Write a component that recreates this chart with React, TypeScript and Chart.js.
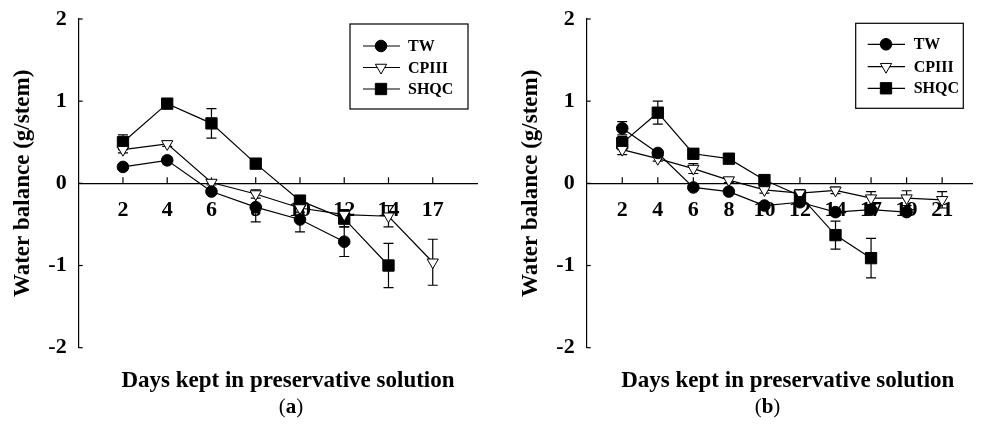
import React, { useEffect, useRef } from 'react';
import { Chart, registerables } from 'chart.js';

Chart.register(...registerables);

// ---- data ----
const SERIES_NAMES = ['TW', 'CPIII', 'SHQC'];
const Y_TICKS = [-2, -1, 0, 1, 2];
const Y_TITLE = 'Water balance (g/stem)';
const X_TITLE = 'Days kept in preservative solution';

const DAYS_A = ['2', '4', '6', '8', '10', '12', '14', '17'];
const TW_A = [0.2, 0.28, -0.1, -0.29, -0.44, -0.71, null, null];
const TW_A_ERR = [0.04, 0.04, 0.03, 0.18, 0.15, 0.18, null, null];
const CPIII_A = [0.41, 0.48, 0.01, -0.13, -0.3, -0.38, -0.4, -0.96];
const CPIII_A_ERR = [0.04, 0.03, 0.03, 0.05, 0.05, 0.06, 0.13, 0.28];
const SHQC_A = [0.5, 0.97, 0.73, 0.24, -0.21, -0.43, -1.0, null];
const SHQC_A_ERR = [0.09, 0.03, 0.18, 0.03, 0.05, 0.1, 0.27, null];

const DAYS_B = ['2', '4', '6', '8', '10', '12', '14', '17', '19', '21'];
const TW_B = [0.67, 0.37, -0.05, -0.1, -0.27, -0.23, -0.35, -0.32, -0.35, null];
const TW_B_ERR = [0.08, 0.03, 0.03, 0.03, 0.03, 0.04, 0.04, 0.03, 0.03, null];
const CPIII_B = [0.41, 0.3, 0.18, 0.04, -0.08, -0.12, -0.085, -0.18, -0.18, -0.2];
const CPIII_B_ERR = [0.06, 0.03, 0.06, 0.03, 0.04, 0.04, 0.04, 0.08, 0.09, 0.1];
const SHQC_B = [0.49, 0.86, 0.36, 0.3, 0.04, -0.15, -0.63, -0.91, null, null];
const SHQC_B_ERR = [0.08, 0.14, 0.04, 0.03, 0.04, 0.05, 0.17, 0.24, null, null];

// ---- styling ----
const FONT = "'Liberation Serif', 'Times New Roman', serif";
const LINE_W = 1.2;
type MarkerKind = 'circle' | 'triangle' | 'rect';
const MARKERS: Record<MarkerKind, { style: string; radius: number; rotation: number; fill: string }> = {
  circle: { style: 'circle', radius: 5.8, rotation: 0, fill: '#000' },
  triangle: { style: 'triangle', radius: 6.5, rotation: 180, fill: '#fff' },
  rect: { style: 'rect', radius: 8, rotation: 0, fill: '#000' },
};
const KINDS: MarkerKind[] = ['circle', 'triangle', 'rect'];

type PanelCfg = {
  days: string[];
  values: (number | null)[][];
  errs: (number | null)[][];
  canvasLeft: number;
  canvasWidth: number;
  padLeft: number;
  padRight: number;
  xMax: number;
  legend: { x: number; y: number; w: number; h: number; rows: number[]; lineX0: number; lineX1: number; markX: number; textX: number };
  titleX: number;
  captionX: number;
  caption: string;
};

const PANELS: PanelCfg[] = [
  {
    days: DAYS_A,
    values: [TW_A, CPIII_A, SHQC_A],
    errs: [TW_A_ERR, CPIII_A_ERR, SHQC_A_ERR],
    canvasLeft: 0,
    canvasWidth: 490,
    padLeft: 0,
    padRight: 13,
    xMax: 9,
    legend: { x: 350, y: 24, w: 118, h: 85, rows: [22, 43.5, 65], lineX0: 13, lineX1: 50, markX: 31, textX: 58 },
    titleX: 288,
    captionX: 291,
    caption: 'a',
  },
  {
    days: DAYS_B,
    values: [TW_B, CPIII_B, SHQC_B],
    errs: [TW_B_ERR, CPIII_B_ERR, SHQC_B_ERR],
    canvasLeft: 490,
    canvasWidth: 491,
    padLeft: 18,
    padRight: 1,
    xMax: 10.84,
    legend: { x: 365.7, y: 23.3, w: 107.6, h: 85, rows: [21, 43.4, 65], lineX0: 12, lineX1: 49.3, markX: 30.3, textX: 58 },
    titleX: 297.8,
    captionX: 277.5,
    caption: 'b',
  },
];

function drawMarker(ctx: CanvasRenderingContext2D, kind: MarkerKind, x: number, y: number) {
  const m = MARKERS[kind];
  ctx.save();
  ctx.fillStyle = m.fill;
  ctx.strokeStyle = '#000';
  ctx.lineWidth = 1;
  ctx.beginPath();
  if (kind === 'circle') {
    ctx.arc(x, y, m.radius, 0, Math.PI * 2);
  } else if (kind === 'rect') {
    const s = m.radius * Math.SQRT1_2;
    ctx.rect(x - s, y - s, 2 * s, 2 * s);
  } else {
    const r = m.radius;
    ctx.moveTo(x, y + r);
    ctx.lineTo(x - r * Math.sin(Math.PI / 3), y - r / 2);
    ctx.lineTo(x + r * Math.sin(Math.PI / 3), y - r / 2);
    ctx.closePath();
  }
  ctx.fill();
  ctx.stroke();
  ctx.restore();
}

function Panel({ cfg }: { cfg: PanelCfg }) {
  const ref = useRef<HTMLCanvasElement>(null);

  useEffect(() => {
    const canvas = ref.current!;
    const extras = {
      id: 'extras',
      beforeDatasetsDraw(chart: any) {
        const { ctx } = chart;
        const x = chart.scales.x;
        const y = chart.scales.y;
        ctx.save();
        ctx.strokeStyle = '#000';
        ctx.lineWidth = LINE_W;
        const y0 = y.getPixelForValue(0);
        // x tick marks, pointing up from the zero line
        x.ticks.forEach((t: any) => {
          const px = x.getPixelForValue(t.value);
          ctx.beginPath();
          ctx.moveTo(px, y0);
          ctx.lineTo(px, y0 - 6);
          ctx.stroke();
        });
        // y tick marks, pointing inward
        y.ticks.forEach((t: any) => {
          const py = y.getPixelForValue(t.value);
          ctx.beginPath();
          ctx.moveTo(y.right, py);
          ctx.lineTo(y.right + 4, py);
          ctx.stroke();
        });
        // error bars
        cfg.values.forEach((vals, si) => {
          vals.forEach((v, i) => {
            const e = cfg.errs[si][i];
            if (v == null || e == null) return;
            const px = x.getPixelForValue(i + 1);
            const top = y.getPixelForValue(v + e);
            const bot = y.getPixelForValue(v - e);
            ctx.beginPath();
            ctx.moveTo(px, top);
            ctx.lineTo(px, bot);
            ctx.moveTo(px - 5, top);
            ctx.lineTo(px + 5, top);
            ctx.moveTo(px - 5, bot);
            ctx.lineTo(px + 5, bot);
            ctx.stroke();
          });
        });
        ctx.restore();
      },
      afterDraw(chart: any) {
        const { ctx } = chart;
        const L = cfg.legend;
        ctx.save();
        ctx.strokeStyle = '#000';
        ctx.lineWidth = LINE_W;
        ctx.strokeRect(L.x, L.y, L.w, L.h);
        SERIES_NAMES.forEach((name, i) => {
          const ry = L.y + L.rows[i];
          ctx.beginPath();
          ctx.moveTo(L.x + L.lineX0, ry);
          ctx.lineTo(L.x + L.lineX1, ry);
          ctx.stroke();
          drawMarker(ctx, KINDS[i], L.x + L.markX, ry);
          ctx.fillStyle = '#000';
          ctx.font = `bold 16px ${FONT}`;
          ctx.textAlign = 'left';
          ctx.textBaseline = 'middle';
          ctx.fillText(name, L.x + L.textX, ry + 1);
        });
        // x-axis title
        ctx.fillStyle = '#000';
        ctx.font = `bold 23px ${FONT}`;
        ctx.textAlign = 'center';
        ctx.textBaseline = 'alphabetic';
        ctx.fillText(X_TITLE, cfg.titleX, 387);
        // caption (a)/(b)
        const reg = `21px ${FONT}`;
        const bold = `bold 21px ${FONT}`;
        ctx.font = reg;
        const wP = ctx.measureText('(').width;
        const wC = ctx.measureText(')').width;
        ctx.font = bold;
        const wL = ctx.measureText(cfg.caption).width;
        let cx = cfg.captionX - (wP + wL + wC) / 2;
        ctx.textAlign = 'left';
        ctx.font = reg;
        ctx.fillText('(', cx, 413);
        cx += wP;
        ctx.font = bold;
        ctx.fillText(cfg.caption, cx, 413);
        cx += wL;
        ctx.font = reg;
        ctx.fillText(')', cx, 413);
        ctx.restore();
      },
    };

    const datasets = SERIES_NAMES.map((name, si) => {
      const m = MARKERS[KINDS[si]];
      return {
        label: name,
        data: cfg.values[si]
          .map((v, i) => ({ x: i + 1, y: v }))
          .filter((p) => p.y != null),
        borderColor: '#000',
        borderWidth: LINE_W,
        backgroundColor: m.fill,
        pointStyle: m.style,
        pointRadius: m.radius,
        pointRotation: m.rotation,
        pointBackgroundColor: m.fill,
        pointBorderColor: '#000',
        pointBorderWidth: 1,
        tension: 0,
        fill: false,
      };
    });

    const chart = new Chart(canvas, {
      type: 'line',
      data: { datasets: datasets as any },
      options: {
        animation: false,
        responsive: false,
        events: [],
        layout: { padding: { left: cfg.padLeft, right: cfg.padRight, top: 19, bottom: 81.3 } },
        plugins: { legend: { display: false }, tooltip: { enabled: false } },
        scales: {
          x: {
            type: 'linear',
            min: 0,
            max: cfg.xMax,
            position: { y: 0 } as any,
            afterBuildTicks: (s: any) => {
              s.ticks = cfg.days.map((_, i) => ({ value: i + 1 }));
            },
            afterFit: (s: any) => {
              s.paddingLeft = 0;
              s.paddingRight = 0;
            },
            ticks: {
              autoSkip: false,
              maxRotation: 0,
              padding: 14,
              color: '#000',
              font: { family: FONT, weight: 'bold', size: 22 },
              callback: (v: any) => cfg.days[Number(v) - 1] ?? '',
            },
            grid: { display: true, drawOnChartArea: false, drawTicks: false },
            border: { display: true, color: '#000', width: LINE_W },
          },
          y: {
            type: 'linear',
            min: -2,
            max: 2,
            afterBuildTicks: (s: any) => {
              s.ticks = Y_TICKS.map((v) => ({ value: v }));
            },
            afterFit: (s: any) => {
              s.width = 78.7;
              s.paddingTop = 0;
              s.paddingBottom = 0;
            },
            ticks: {
              padding: 12,
              color: '#000',
              font: { family: FONT, weight: 'bold', size: 22 },
              callback: (v: any) => String(v),
            },
            grid: { display: true, drawOnChartArea: false, drawTicks: false },
            border: { display: true, color: '#000', width: LINE_W },
            title: {
              display: true,
              text: Y_TITLE,
              color: '#000',
              font: { family: FONT, weight: 'bold', size: 23 },
              padding: { top: 9, bottom: 0 },
            },
          },
        },
      },
      plugins: [extras],
    } as any);

    return () => chart.destroy();
  }, [cfg]);

  return (
    <canvas
      ref={ref}
      width={cfg.canvasWidth}
      height={429}
      style={{ position: 'absolute', left: cfg.canvasLeft, top: 0, width: cfg.canvasWidth, height: 429 }}
    />
  );
}

export default function App() {
  return (
    <div style={{ position: 'fixed', left: 0, top: 0, width: 981, height: 429, background: '#fff', overflow: 'hidden' }}>
      {PANELS.map((p, i) => (
        <Panel key={i} cfg={p} />
      ))}
    </div>
  );
}
